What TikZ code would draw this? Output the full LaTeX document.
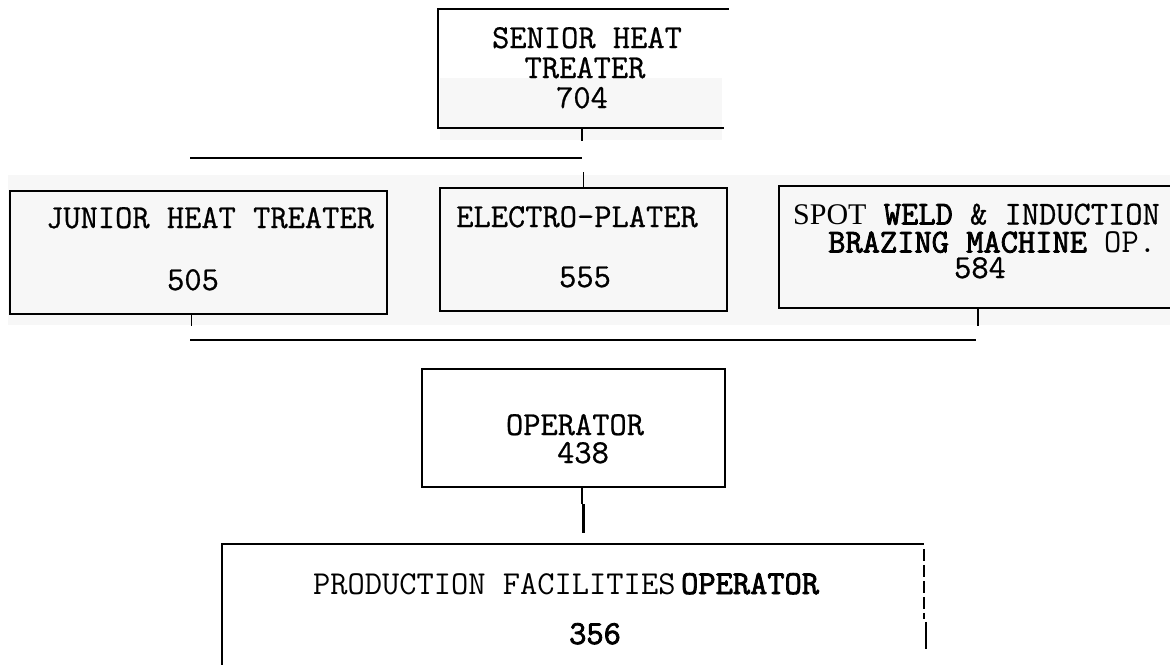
\documentclass[tikz,border=0pt]{standalone}
\usepackage{fontspec}
\usetikzlibrary{calc}
\newfontfamily\tw[FakeBold=0.7]{Latin Modern Mono}
\newfontfamily\twb[FakeBold=2.4]{Latin Modern Mono}
\newfontfamily\twl{Latin Modern Mono}
\newfontfamily\srf{Liberation Serif}
\definecolor{scan}{RGB}{247,247,247}
\begin{document}
\begin{tikzpicture}[x=1pt,y=-1pt,
  boxshape/.style={rectangle,inner sep=0pt,line width=2.4pt},
  boxline/.style={line width=2.4pt,line cap=rect},
  lbl/.style={anchor=base,inner sep=0pt,font=\fontsize{33.5}{36}\tw},
  lblw/.style={anchor=base west,inner sep=0pt,font=\fontsize{33.5}{36}\tw},
  bus/.style={line width=2.8pt},
  tick/.style={line width=1.5pt},
  thick/.style={line width=3pt}]
\useasboundingbox (0,0) rectangle (1170,664);
\fill[white] (0,0) rectangle (1170,664);
\fill[scan] (8,175) rectangle (1170,325);
\fill[scan] (440,78) rectangle (722,140);

% boxes
\node[boxshape,minimum width=286pt,minimum height=117pt] (senior) at (582,68.5) {};
\draw[boxline] (senior.north east) ++(2,0) -- (senior.north west) -- (senior.south west) -- ($(senior.south east)+(-3,0)$);

\node[boxshape,draw,minimum width=377pt,minimum height=123pt] (junior) at (198.5,252.5) {};
\node[boxshape,draw,minimum width=287pt,minimum height=123pt] (electro) at (583.5,249.5) {};
\node[boxshape,draw,minimum width=411pt,minimum height=122pt] (spot) at (984.5,247) {};
\node[boxshape,draw,minimum width=303pt,minimum height=118pt] (oper) at (573.5,428) {};

\node[boxshape,minimum width=699pt,minimum height=155pt] (prod) at (572.5,622.5) {};
\draw[boxline] (prod.south west) -- (prod.north west) -- (prod.north east);
\draw[line width=2pt,dash pattern=on 12pt off 4pt] ($(prod.north east)+(1,5)$) -- ++(0,70);
\draw[line width=2.2pt] ($(prod.north east)+(3,78)$) -- ++(0,27);

% connectors
\draw[tick] (senior.south) -- ++(0,13);
\coordinate (bt1) at (190,158);
\coordinate (bt2) at (582,158);
\draw[bus] (bt1) -- (bt2);
\draw[tick] (electro.north) -- ++(0,-15);

\draw[tick] ($(junior.south)+(-7,0)$) -- ++(0,11);
\draw[tick] ($(spot.south)+(-6.5,0)$) -- ++(0,17);
\coordinate (bb1) at (190,340);
\coordinate (bb2) at (976,340);
\draw[bus] (bb1) -- (bb2);

\draw[tick] ($(oper.south)+(8.5,0)$) coordinate (oc) -- ++(0,16) coordinate (od);
\draw[thick] ($(od)+(1,0)$) -- ++(0,29);

% texts
\node[lbl] (t1) at (587,48) {SENIOR HEAT};
\node[lbl] (t2) at (585,78) {TREATER};
\node[lbl] (t3) at (582,108) {704};

\node[lbl] (t4) at (210,228) {JUNIOR HEAT TREATER};
\node[lbl] (t5) at (193,290) {505};

\node[lbl] (t6) at (577,227) {ELECTRO-PLATER};
\node[lbl] (t7) at (585,287) {555};

\node[lblw] (t8) at (793,224.5) {{\fontsize{30}{34}\srf SPOT} {\twb WELD} \& INDUCTION};
\node[lblw] (t9) at (828,252.5) {{\twb BRAZING MACHINE} {\twl OP.}};
\node[lbl] (t10) at (980,278) {584};

\node[lbl] (t11) at (575,435) {OPERATOR};
\node[lbl] (t12) at (583,463) {438};

\node[lblw] (t13) at (313,594) {{\twl PRODUCTION FACILITIES}{\twb\,OPERATOR}};
\node[lbl] (t14) at (595,644) {{\twb 356}};
\end{tikzpicture}
\end{document}
